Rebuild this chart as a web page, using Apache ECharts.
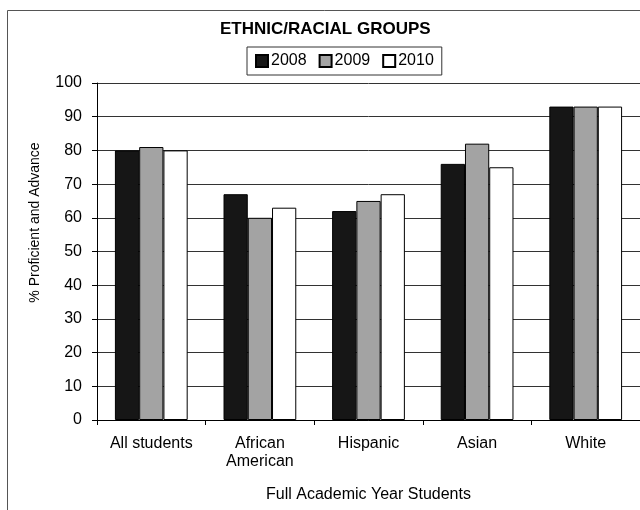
<!DOCTYPE html>
<html>
<head>
<meta charset="utf-8">
<script src="https://cdn.jsdelivr.net/npm/echarts@6/dist/echarts.min.js"></script>
<style>html,body{margin:0;padding:0;background:#fff}#c{width:640px;height:510px}</style>
</head>
<body>
<div id="c"></div>
<script>
var categories = ['All students', 'African\nAmerican', 'Hispanic', 'Asian', 'White'];
var years = ['2008', '2009', '2010'];
var values2008 = [80, 67, 62, 76, 93];
var values2009 = [81, 60, 65, 82, 93];
var values2010 = [80, 63, 67, 75, 93];
var yTicks = [0, 10, 20, 30, 40, 50, 60, 70, 80, 90, 100];

var FONT = '"Liberation Sans", Arial, sans-serif';
var fills = ['#161616', '#a3a3a3', '#ffffff'];
var seriesValues = [values2008, values2009, values2010];

var chart = echarts.init(document.getElementById('c'), null, {renderer: 'canvas'});
chart.setOption({
  animation: false,
  backgroundColor: '#ffffff',
  textStyle: {fontFamily: FONT, color: '#000'},
  graphic: [{
    type: 'rect', silent: true, z: -1,
    shape: {x: 7.5, y: 10.5, width: 700, height: 600},
    style: {fill: 'none', stroke: '#555', lineWidth: 1}
  }],
  title: {
    text: 'ETHNIC/RACIAL GROUPS',
    left: 220, top: 21, padding: 0,
    textStyle: {fontFamily: FONT, fontSize: 17, fontWeight: 'bold', color: '#000'}
  },
  legend: {
    data: years,
    left: 247, top: 47,
    padding: [6, 8],
    borderColor: '#333', borderWidth: 1,
    itemWidth: 12, itemHeight: 12, itemGap: 12,
    icon: 'rect',
    textStyle: {fontFamily: FONT, fontSize: 16, color: '#000', padding: [0, 0, 0, -2]}
  },
  grid: {left: 97, top: 83, width: 545, height: 337, containLabel: false},
  xAxis: {
    type: 'category',
    data: categories,
    name: 'Full Academic Year Students',
    nameLocation: 'middle',
    nameGap: 67,
    nameTextStyle: {fontFamily: FONT, fontSize: 16, color: '#000'},
    axisLine: {lineStyle: {color: '#000', width: 1}},
    axisTick: {show: true, length: 5, alignWithLabel: false, lineStyle: {color: '#000'}},
    axisLabel: {fontFamily: FONT, fontSize: 16, color: '#000', margin: 15, lineHeight: 18, interval: 0}
  },
  yAxis: {
    type: 'value',
    min: yTicks[0], max: yTicks[yTicks.length - 1], interval: 10,
    name: '% Proficient and Advance',
    nameLocation: 'middle',
    nameRotate: 90,
    nameGap: 55,
    nameTextStyle: {fontFamily: FONT, fontSize: 14, color: '#000', padding: [0, 0, 0, 58]},
    axisLine: {show: true, lineStyle: {color: '#000', width: 1}},
    axisTick: {show: true, length: 5, lineStyle: {color: '#000'}},
    axisLabel: {fontFamily: FONT, fontSize: 16, color: '#000', margin: 15},
    splitLine: {show: true, lineStyle: {color: '#333', width: 1}}
  },
  series: years.map(function (y, i) {
    return {
      name: y,
      type: 'bar',
      data: seriesValues[i],
      barGap: '0%',
      barCategoryGap: '33%',
      itemStyle: {color: fills[i], borderColor: '#000', borderWidth: 1}
    };
  })
});
</script>
</body>
</html>
